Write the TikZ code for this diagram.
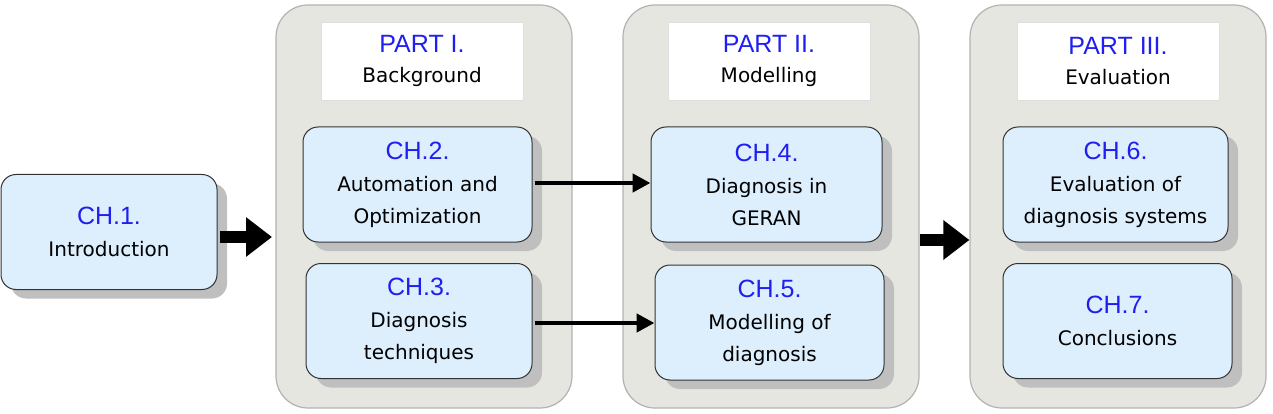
\documentclass[tikz,border=0pt]{standalone}
\usepackage{fontspec}
\setmainfont{DejaVu Sans}
\newfontfamily\headfont{Liberation Sans}
\usetikzlibrary{positioning,shadows,arrows.meta}
\definecolor{chapblue}{HTML}{DDEEFD}
\definecolor{partgray}{HTML}{E6E6E1}
\definecolor{headblue}{HTML}{1F1FEF}
\newcommand{\chtitle}[1]{{\headfont\fontsize{25}{28}\selectfont\color{headblue}#1}}
\tikzset{
  panel/.style={draw=gray!60, fill=partgray, rounded corners=32pt, line width=1.2pt, minimum width=296pt, minimum height=403pt},
  parthead/.style={fill=white, draw=gray!25, minimum width=202pt, minimum height=78pt, align=center, font=\fontsize{20}{30}\selectfont},
  chapter/.style={draw=black!80, fill=chapblue, rounded corners=15pt, line width=1pt, minimum height=115pt, align=center,
    font=\fontsize{20}{32}\selectfont, drop shadow={shadow xshift=10pt, shadow yshift=-9pt, fill=gray!50, opacity=1}},
  bigarrow/.style={-{Triangle[length=26pt,width=38pt]}, line width=12pt},
  arrow/.style={-{Triangle[length=18pt,width=18pt]}, line width=4.5pt}
}
\begin{document}
\begin{tikzpicture}[x=1pt, y=-1pt]
  \useasboundingbox (0,0) rectangle (1273,414);
  % the three parts
  \node[panel] (p1) at (424,206.5) {};
  \node[panel] (p2) at (771,206.5) {};
  \node[panel] (p3) at (1118,206.5) {};
  \node[parthead] (h1) at (422,61) {\chtitle{PART I.}\\Background};
  \node[parthead] (h2) at (769,61) {\chtitle{PART II.}\\Modelling};
  \node[parthead] (h3) at (1118,61) {\chtitle{PART III.}\\Evaluation};

  % chapters
  \node[chapter, minimum width=216pt] (ch1) at (109,232) {\chtitle{CH.1.}\\Introduction};
  \node[chapter, minimum width=229pt] (ch2) at (417.5,184.5) {\chtitle{CH.2.}\\Automation and\\Optimization};
  \node[chapter, minimum width=226pt] (ch3) at (419,321) {\chtitle{CH.3.}\\Diagnosis\\techniques};
  \node[chapter, minimum width=231pt] (ch4) at (766.5,184.5) {\chtitle{CH.4.}\\Diagnosis in\\GERAN};
  \node[chapter, minimum width=229pt] (ch5) at (769.5,322.5) {\chtitle{CH.5.}\\Modelling of\\diagnosis};
  \node[chapter, minimum width=225pt] (ch6) at (1115.5,184.5) {\chtitle{CH.6.}\\Evaluation of\\diagnosis systems};
  \node[chapter, minimum width=229pt] (ch7) at (1117.5,321) {\chtitle{CH.7.}\\Conclusions};

  % connectors
  \draw[bigarrow] ([xshift=2pt]ch1.east |- 0,237) -- (272,237);
  \draw[bigarrow] (p2.east |- 0,240) -- (p3.west |- 0,240);
  \draw[arrow] ([xshift=2pt]ch2.east |- 0,183) -- (ch4.west |- 0,183);
  \draw[arrow] ([xshift=2pt]ch3.east |- 0,323) -- (ch5.west |- 0,323);
\end{tikzpicture}
\end{document}
